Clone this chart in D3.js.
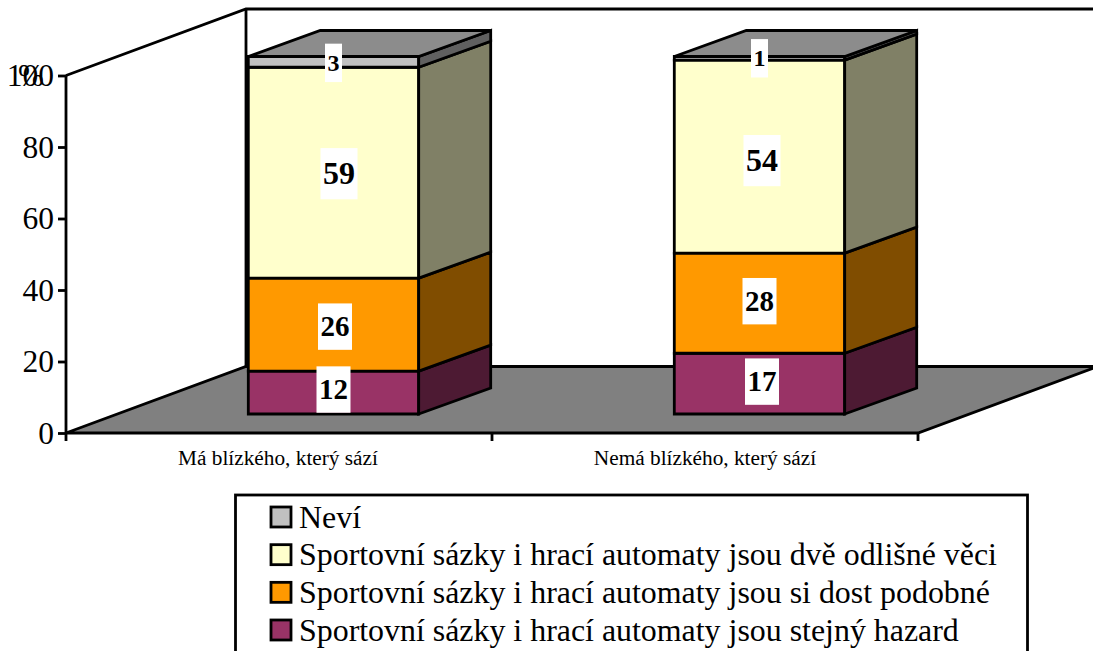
<!DOCTYPE html>
<html><head><meta charset="utf-8">
<script src="https://cdnjs.cloudflare.com/ajax/libs/d3/7.8.5/d3.min.js"></script>
<style>html,body{margin:0;padding:0;background:#fff;overflow:hidden}svg{display:block}text{font-family:"Liberation Serif",serif;fill:#000}</style>
</head><body><svg id="c" width="1093" height="651"></svg>
<script>
const categories = ["Má blízkého, který sází","Nemá blízkého, který sází"];
const seriesNames = ["Sportovní sázky i hrací automaty jsou stejný hazard","Sportovní sázky i hrací automaty jsou si dost podobné","Sportovní sázky i hrací automaty jsou dvě odlišné věci","Neví"];
const hazard = [12,17];
const podobne = [26,28];
const odlisne = [59,54];
const nevi = [3,1];
const yTicks = [0,20,40,60,80,100];
const frontColors = ["#993366","#FF9900","#FFFFCC","#C0C0C0"];
const sideColors = ["#4D1A33","#804D00","#808066","#606060"];
const topColor = "#8C8C8C", floorColor = "#808080";
const labelNudgeX = [[0,1.5,5.5,0],[2.5,0,2.5,0]];
const labelNudgeY = [[-3,2,1,1],[-2,-2,4,0]];
const labelFont = [29,29,32,24];

const series = [hazard,podobne,odlisne,nevi];
const svg = d3.select("#c");
const y = d3.scaleLinear().domain([0,100]).range([433,75.5]);
const x0 = 66, x1 = 918;
const wallDx = 180, wallDy = -66.5;
const barDx = 72, barDy = -26, baseLift = 19;
const x = d3.scaleBand().domain(categories).range([120.5,972.5]).paddingInner(0.6).paddingOuter(0.3);
const line = d3.line();
const poly = (pts,fill,sw=2.8)=>svg.append("path").attr("d",line(pts)+"Z").attr("fill",fill).attr("stroke","#000").attr("stroke-width",sw).attr("stroke-linejoin","miter");

// back wall & floor
svg.append("path").attr("d",line([[x0,y(100)],[x0+wallDx,y(100)+wallDy],[1093,y(100)+wallDy]])).attr("fill","none").attr("stroke","#000").attr("stroke-width",2.8);
svg.append("path").attr("d",line([[x0+wallDx,y(100)+wallDy],[x0+wallDx,y(0)+wallDy]])).attr("fill","none").attr("stroke","#000").attr("stroke-width",2.8);
svg.append("path").attr("d",line([[x0,y(0)],[x0+wallDx,y(0)+wallDy],[x1+wallDx,y(0)+wallDy],[x1,y(0)]])+"Z").attr("fill",floorColor).attr("stroke","#000").attr("stroke-width",2.8);

// axes
const axisY = svg.append("g").attr("transform",`translate(${x0},0)`).call(d3.axisLeft(y).tickValues(yTicks).tickSize(8).tickPadding(4));
axisY.select(".domain").attr("stroke","#000").attr("stroke-width",2.8).attr("d",`M0,${y(100)}V${y(0)}`);
axisY.selectAll(".tick line").attr("stroke","#000").attr("stroke-width",2.8);
axisY.selectAll("text").style("font-family",'"Liberation Serif",serif').style("font-size","31.5px").attr("fill","#000");
svg.append("text").attr("x",31).attr("y",y(100)+10).attr("text-anchor","middle").style("font-size","31px").text("%");
const xTicks=[x0,(x0+x1)/2,x1];
svg.selectAll(".xt").data(xTicks).join("line").attr("x1",d=>d).attr("x2",d=>d).attr("y1",y(0)).attr("y2",y(0)+8).attr("stroke","#000").attr("stroke-width",2.8);
const catCenters=[278,705];
svg.selectAll(".cat").data(categories).join("text").attr("x",(d,i)=>catCenters[i]).attr("y",465).attr("text-anchor","middle").style("font-size","21.3px").text(d=>d);

// bars
categories.forEach((c,ci)=>{
  const L=x(c), R=L+x.bandwidth();
  let acc=0;
  const yb=v=>y(v)-baseLift;
  series.forEach((s,si)=>{
    const v=s[ci], a=yb(acc), b=yb(acc+v);
    poly([[L,a],[R,a],[R,b],[L,b]],frontColors[si]);
    poly([[R,a],[R+barDx,a+barDy],[R+barDx,b+barDy],[R,b]],sideColors[si]);
    acc+=v;
  });
  const t=yb(acc);
  poly([[L,t],[L+barDx,t+barDy],[R+barDx,t+barDy],[R,t]],topColor);
});
// data labels
categories.forEach((c,ci)=>{
  const cx=x(c)+x.bandwidth()/2; let acc=0;
  series.forEach((s,si)=>{
    const v=s[ci], fs=labelFont[si];
    const mid=y(acc+v/2)-baseLift; acc+=v;
    const px=cx+labelNudgeX[ci][si], py=mid+labelNudgeY[ci][si];
    const w=String(v).length*fs/2+5, h=fs*1.6;
    svg.append("rect").attr("x",px-w/2).attr("y",py-h/2).attr("width",w).attr("height",h).attr("fill","#fff");
    svg.append("text").attr("x",px).attr("y",py+fs*0.33).attr("text-anchor","middle").style("font-size",fs+"px").style("font-weight","bold").text(v);
  });
});
// legend
svg.append("rect").attr("x",235.5).attr("y",495).attr("width",792).attr("height",170).attr("fill","#fff").attr("stroke","#000").attr("stroke-width",2.8);
const order=[3,2,1,0];
const ly=d3.scalePoint().domain(order).range([517,630]);
order.forEach(i=>{
  svg.append("rect").attr("x",271).attr("y",ly(i)-10).attr("width",20).attr("height",20).attr("fill",frontColors[i]).attr("stroke","#000").attr("stroke-width",2.8);
  svg.append("text").attr("x",299).attr("y",ly(i)+10.5).style("font-size","31.9px").text(seriesNames[i]);
});
</script></body></html>
